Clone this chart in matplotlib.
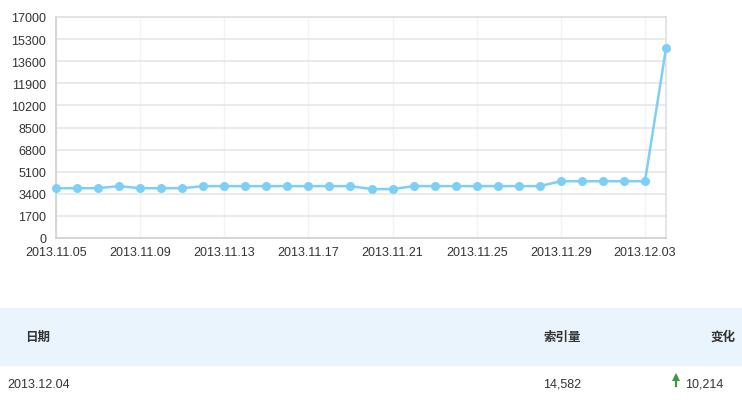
import matplotlib
matplotlib.use("Agg")
import matplotlib.pyplot as plt
from matplotlib.patches import Rectangle
from matplotlib.lines import Line2D

plt.rcParams['font.family'] = ['Liberation Sans', 'DejaVu Sans']

dates = ["2013.11.05", "2013.11.06", "2013.11.07", "2013.11.08", "2013.11.09",
         "2013.11.10", "2013.11.11", "2013.11.12", "2013.11.13", "2013.11.14",
         "2013.11.15", "2013.11.16", "2013.11.17", "2013.11.18", "2013.11.19",
         "2013.11.20", "2013.11.21", "2013.11.22", "2013.11.23", "2013.11.24",
         "2013.11.25", "2013.11.26", "2013.11.27", "2013.11.28", "2013.11.29",
         "2013.11.30", "2013.12.01", "2013.12.02", "2013.12.03", "2013.12.04"]
values = [3830, 3830, 3830, 3990, 3830, 3830, 3830, 3990, 3990, 3990,
          3990, 3990, 3990, 3990, 3990, 3760, 3760, 3990, 3990, 3990,
          3990, 3990, 3990, 3990, 4368, 4368, 4368, 4368, 4368, 14582]
yticks = [0, 1700, 3400, 5100, 6800, 8500, 10200, 11900, 13600, 15300, 17000]
xtick_idx = [0, 4, 8, 12, 16, 20, 24, 28]

table_header = ["日期", "索引量", "变化"]
table_row = ["2013.12.04", "14,582", "10,214"]

W, H = 742, 406
fig = plt.figure(figsize=(W / 100, H / 100), dpi=100)
ax = fig.add_axes([56 / W, (H - 239) / H, 610 / W, 221 / H])

x = list(range(len(dates)))
ax.plot(x, values, color='#7ecff5', lw=1.8, marker='o', ms=6.5,
        markeredgewidth=0, zorder=3, clip_on=False)
ax.set_xlim(0, len(dates) - 1)
ax.set_ylim(0, 17000)
ax.set_yticks(yticks)
ax.set_yticklabels([str(v) for v in yticks])
ax.set_xticks(xtick_idx)
ax.set_xticklabels([dates[i] for i in xtick_idx])
ax.grid(axis='y', color='#e6e6e6', lw=1.2)
ax.grid(axis='x', color='#f3f3f3', lw=1.0)
ax.set_axisbelow(True)
for s in ax.spines.values():
    s.set_color('#e0e0e0')
    s.set_linewidth(1.2)
ax.spines['bottom'].set_color('#d0d0d0')
ax.spines['left'].set_color('#d0d0d0')
ax.tick_params(axis='both', length=0, labelsize=9, colors='#333333')
ax.tick_params(axis='y', pad=7)
ax.tick_params(axis='x', pad=6)

# table
fig.patches.append(Rectangle((0, (H - 366) / H), 1, 57 / H,
                             transform=fig.transFigure, color='#eaf4fc', zorder=0))
cjk = ['Noto Sans CJK SC', 'DejaVu Sans']
hy = (H - 337) / H
fig.text(25 / W, hy, table_header[0], family=cjk, fontsize=9, weight='bold',
         color='#333333', va='center', ha='left')
fig.text(581 / W, hy, table_header[1], family=cjk, fontsize=9, weight='bold',
         color='#333333', va='center', ha='right')
fig.text(735 / W, hy, table_header[2], family=cjk, fontsize=9, weight='bold',
         color='#333333', va='center', ha='right')
ry = (H - 385) / H
fig.text(7 / W, ry, table_row[0], fontsize=9, color='#333333',
         va='center', ha='left')
fig.text(581 / W, ry, table_row[1], fontsize=9, color='#333333',
         va='center', ha='right')
fig.text(685 / W, ry, table_row[2], fontsize=9, color='#333333',
         va='center', ha='left')
ax_x = 675.5 / W
fig.add_artist(Line2D([ax_x, ax_x], [(H - 387) / H, (H - 377) / H],
                      transform=fig.transFigure, color='#3a9a3a', lw=1.6))
fig.add_artist(Line2D([ax_x], [(H - 377.5) / H], transform=fig.transFigure,
                      marker='^', ms=5.5, color='#3a9a3a', markeredgewidth=0, lw=0))

fig.savefig('out.png', dpi=100, facecolor='white')
